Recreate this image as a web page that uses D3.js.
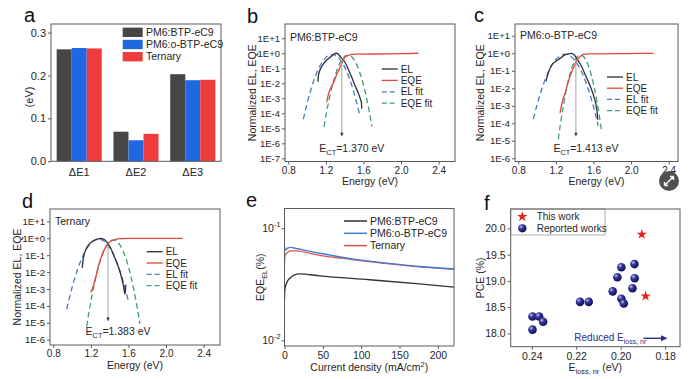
<!DOCTYPE html>
<html><head><meta charset="utf-8">
<script src="https://cdn.jsdelivr.net/npm/d3@7/dist/d3.min.js"></script>
<style>
html,body{margin:0;padding:0;background:#fff;}
svg{display:block;}
text{font-family:"Liberation Sans",Arial,Helvetica,sans-serif;}
</style></head><body>
<svg id="fig" width="700" height="379" xmlns="http://www.w3.org/2000/svg"></svg>
<script>
// ================= DATA =================
// panel a
const aCategories = ["ΔE1","ΔE2","ΔE3"];
const aSeries = ["PM6:BTP-eC9","PM6:o-BTP-eC9","Ternary"];
const aBTP = [0.261,0.069,0.203];
const aOBTP = [0.264,0.049,0.189];
const aTernary = [0.263,0.064,0.190];
const aTicks = [0.0,0.1,0.2,0.3];

// panels b-d
const energyTicks = [0.8,1.2,1.6,2.0,2.4];
const bYTicks = ["1E+1","1E+0","1E-1","1E-2","1E-3","1E-4","1E-5","1E-6","1E-7"];
const cdYTicks = ["1E+1","1E+0","1E-1","1E-2","1E-3","1E-4","1E-5","1E-6"];
const specLegend = ["EL","EQE","EL fit","EQE fit"];

const bEL = [[1.116,0.0126],[1.121,0.0355],[1.155,0.129],[1.209,0.355],[1.262,0.661],[1.286,0.891],[1.313,1.0],[1.329,0.891],[1.350,0.631],[1.403,0.251],[1.438,0.0891],[1.475,0.0251],[1.510,0.00708],[1.545,0.00224],[1.570,0.000794],[1.579,0.0005],[1.581,0.0002]];
const bELfit = [[0.96,4.03e-5],[1.00,4.59e-4],[1.04,3.72e-3],[1.08,0.0215],[1.12,0.0879],[1.16,0.256],[1.20,0.530],[1.24,0.778],[1.28,0.812],[1.32,0.602],[1.36,0.317],[1.40,0.119],[1.44,0.0316],[1.48,5.97e-3],[1.52,8.0e-4],[1.563,6.32e-5]];
const bEQE = [[1.209,5.6e-4],[1.222,1.41e-3],[1.244,3.98e-3],[1.279,0.01],[1.313,0.0355],[1.350,0.112],[1.382,0.316],[1.403,0.537],[1.438,0.708],[1.467,0.813],[1.528,0.871],[1.669,0.891],[1.882,0.912],[2.042,0.955],[2.183,1.0]];
const bEQEfit = [[1.18,1.27e-5],[1.21,1.45e-4],[1.24,1.22e-3],[1.27,7.57e-3],[1.30,0.0346],[1.33,0.117],[1.36,0.292],[1.39,0.537],[1.42,0.730],[1.45,0.731],[1.48,0.541],[1.51,0.294],[1.54,0.119],[1.57,0.0352],[1.60,7.73e-3],[1.63,1.25e-3],[1.66,1.49e-4],[1.69,1.32e-5]];
const bECT = 1.370;

const cEL = [[1.095,0.0251],[1.102,0.0372],[1.155,0.214],[1.201,0.355],[1.244,0.513],[1.286,0.759],[1.332,0.912],[1.368,1.0],[1.393,0.83],[1.421,0.513],[1.446,0.316],[1.475,0.170],[1.510,0.0631],[1.545,0.024],[1.574,0.01],[1.605,3.31e-3],[1.627,1.12e-3],[1.641,3.16e-4],[1.645,1.58e-4]];
const cELfit = [[0.96,1.74e-4],[1.00,1.17e-3],[1.04,6.19e-3],[1.08,0.0258],[1.12,0.0845],[1.16,0.217],[1.20,0.440],[1.24,0.698],[1.28,0.872],[1.32,0.856],[1.36,0.660],[1.40,0.401],[1.44,0.191],[1.48,0.0715],[1.52,0.0210],[1.56,4.86e-3],[1.60,8.85e-4],[1.651,7.1e-5]];
const cEQE = [[1.244,3.98e-4],[1.279,2.69e-3],[1.297,5.01e-3],[1.332,0.024],[1.368,0.0891],[1.385,0.138],[1.414,0.316],[1.438,0.513],[1.457,0.631],[1.492,0.871],[1.545,0.933],[1.669,0.933],[1.882,0.955],[2.095,0.977],[2.236,1.0]];
const cEQEfit = [[1.226,1.22e-5],[1.25,1.04e-4],[1.28,1.09e-3],[1.31,8.03e-3],[1.34,0.0412],[1.37,0.148],[1.40,0.371],[1.43,0.649],[1.46,0.794],[1.49,0.678],[1.52,0.405],[1.55,0.168],[1.58,0.0490],[1.61,9.95e-3],[1.64,1.41e-3],[1.67,1.40e-4],[1.687,3.22e-5]];
const cECT = 1.413;

const dEL = [[1.109,0.0178],[1.113,0.0331],[1.137,0.162],[1.191,0.501],[1.262,0.871],[1.308,1.0],[1.350,0.794],[1.403,0.316],[1.457,0.0661],[1.510,0.0105],[1.545,1.74e-3],[1.563,5.0e-4],[1.571,1.58e-3],[1.579,1.78e-3]];
const dELfit = [[0.943,6.47e-5],[0.98,4.65e-4],[1.02,3.03e-3],[1.06,0.0151],[1.10,0.0579],[1.14,0.170],[1.18,0.380],[1.22,0.653],[1.26,0.859],[1.30,0.865],[1.34,0.667],[1.38,0.394],[1.42,0.178],[1.46,0.0615],[1.50,0.0163],[1.54,3.31e-3],[1.598,2.04e-4]];
const dEQE = [[1.198,6.31e-4],[1.212,8.91e-4],[1.244,3.39e-3],[1.279,0.0209],[1.332,0.162],[1.385,0.501],[1.438,0.794],[1.510,0.955],[1.616,1.0],[1.829,1.0],[2.177,1.0]];
const dEQEfit = [[1.155,6.1e-6],[1.18,4.39e-5],[1.21,3.69e-4],[1.24,2.39e-3],[1.27,0.0119],[1.30,0.0459],[1.33,0.136],[1.36,0.311],[1.39,0.550],[1.42,0.748],[1.45,0.784],[1.48,0.634],[1.51,0.395],[1.54,0.190],[1.57,0.0705],[1.60,0.0201],[1.63,4.44e-3],[1.66,7.53e-4],[1.69,9.86e-5],[1.722,8.47e-6]];
const dECT = 1.383;

// panel e
const eSeries = ["PM6:BTP-eC9","PM6:o-BTP-eC9","Ternary"];
const eBTP = [[0,0.023],[0.4,0.0282],[2.6,0.0323],[7,0.0358],[13,0.0384],[20,0.0392],[46,0.0376],[111,0.0347],[176,0.0319],[221,0.0298]];
const eOBTP = [[0,0.068],[1,0.064],[4,0.0665],[8,0.0675],[15,0.066],[46,0.0598],[90,0.053],[133,0.0488],[176,0.0455],[221,0.0433]];
const eTernary = [[0,0.049],[0.5,0.0566],[3,0.060],[8,0.0628],[14,0.0628],[46,0.0573],[90,0.0524],[133,0.0484],[176,0.0452],[221,0.0431]];
const eXTicks = [0,50,100,150,200];
const eYTicks = [0.01,0.1];

// panel f
const fThisWorkX = [0.1905,0.1888];
const fThisWorkY = [19.886,18.71];
const fReportedX = [0.2397,0.2367,0.2349,0.2397,0.2183,0.2144,0.2036,0.2015,0.1997,0.1997,0.1986,0.1947,0.1938,0.1937];
const fReportedY = [18.32,18.32,18.22,18.07,18.60,18.60,18.80,19.07,19.26,18.66,18.57,18.86,19.32,19.05];
const fXTicks = [0.24,0.22,0.20,0.18];
const fYTicks = [18.0,18.5,19.0,19.5,20.0];
const fLegend = ["This work","Reported works"];

// ================= DRAWING =================
const svg = d3.select("#fig");
const TXT = "#262626", FRAME = "#5a5a5a";

function rich(parent,x,y,parts,size,anchor,rot,fill){
  const t=parent.append("text").attr("x",x).attr("y",y).attr("font-size",size)
    .attr("text-anchor",anchor||"start").attr("fill",fill||TXT);
  if(rot) t.attr("transform",`rotate(-90,${x},${y})`);
  let cur=0;
  parts.forEach(p=>{
    const [str,kind]=Array.isArray(p)?p:[p,"n"];
    const target = kind==="sub"?size*0.3:kind==="sup"?-size*0.42:0;
    const s=t.append("tspan").text(str).attr("dy",target-cur);
    if(kind!=="n") s.attr("font-size",size*0.7);
    cur=target;
  });
  return t;
}
function styleAxis(g,size){
  g.select(".domain").remove();
  g.selectAll(".tick line").attr("stroke",FRAME).attr("stroke-width",1);
  g.selectAll(".tick text").attr("fill",TXT).attr("font-size",size)
    .attr("font-family",'"Liberation Sans",Arial,sans-serif');
}
function frame(l,t,r,b){
  svg.append("rect").attr("x",l).attr("y",t).attr("width",r-l).attr("height",b-t)
    .attr("fill","none").attr("stroke",FRAME).attr("stroke-width",1);
}
function letter(s,x,y){
  svg.append("text").attr("x",x).attr("y",y).attr("font-size",20).attr("fill","#111").text(s);
}

// ---------- panel a ----------
(function(){
  const L=51,R=221,T=24,B=161.3;
  const x=d3.scaleBand().domain(aCategories).range([L,R]).paddingInner(0.206).paddingOuter(0.1);
  const xs=d3.scaleBand().domain(aSeries).range([0,x.bandwidth()]);
  const y=d3.scaleLinear().domain([0,0.32]).range([B,T]);
  const vals=[aBTP,aOBTP,aTernary];
  const colors=["#464646","#1f68e2","#ee3b3b"];
  aSeries.forEach((s,si)=>{
    svg.append("g").selectAll("rect").data(aCategories).join("rect")
      .attr("x",c=>x(c)+xs(s)).attr("width",xs.bandwidth())
      .attr("y",(c,i)=>y(vals[si][i])).attr("height",(c,i)=>B-y(vals[si][i]))
      .attr("fill",colors[si]);
  });
  const ya=svg.append("g").attr("transform",`translate(${L},0)`)
    .call(d3.axisLeft(y).tickValues(aTicks).tickFormat(d3.format(".1f")).tickSize(3).tickSizeOuter(0).tickPadding(2));
  styleAxis(ya,11);
  const xa=svg.append("g").attr("transform",`translate(0,${B})`)
    .call(d3.axisBottom(x).tickSize(0).tickPadding(7));
  styleAxis(xa,11);
  frame(L,T,R,B);
  rich(svg,33,97,["(eV)"],11,"middle",true);
  aSeries.forEach((s,i)=>{
    const yy=32.3+i*12.2;
    svg.append("rect").attr("x",122.7).attr("y",yy-4.7).attr("width",20).attr("height",9.4).attr("fill",colors[i]);
    svg.append("text").attr("x",146).attr("y",yy).attr("dy","0.36em").attr("font-size",10.5).attr("fill",TXT).text(s);
  });
  letter("a",24,21.7);
})();

// ---------- panels b, c, d ----------
const specStyles=[
  {c:"#2e2e3a",dash:null},
  {c:"#e4443c",dash:null},
  {c:"#4a78c8",dash:"5.5,3.5"},
  {c:"#3f9e72",dash:"5.5,3.5"}
];
function specPanel(o){
  const x=d3.scaleLinear().domain(o.xDom).range([o.l,o.r]);
  const y=d3.scaleLog().domain(o.yDom).range([o.b,o.t]);
  const id="clip-"+o.id;
  svg.append("clipPath").attr("id",id).append("rect")
    .attr("x",o.l).attr("y",o.t).attr("width",o.r-o.l).attr("height",o.b-o.t);
  const ya=svg.append("g").attr("transform",`translate(${o.l},0)`)
    .call(d3.axisLeft(y).tickValues(o.yTicks.map(Number)).tickFormat((d,i)=>o.yTicks[i]).tickSize(3).tickSizeOuter(0).tickPadding(2));
  styleAxis(ya,9.5);
  const xa=svg.append("g").attr("transform",`translate(0,${o.b})`)
    .call(d3.axisBottom(x).tickValues(energyTicks).tickFormat(d3.format(".1f")).tickSize(3).tickSizeOuter(0).tickPadding(2));
  styleAxis(xa,10);
  const pg=svg.append("g").attr("clip-path",`url(#${id})`);
  const line=d3.line().x(d=>x(d[0])).y(d=>y(d[1])).curve(d3.curveMonotoneX);
  const series=[o.el,o.eqe,o.elfit,o.eqefit];
  [2,3,0,1].forEach(k=>{
    const p=pg.append("path").datum(series[k]).attr("d",line).attr("fill","none")
      .attr("stroke",specStyles[k].c).attr("stroke-width",1.3);
    if(specStyles[k].dash) p.attr("stroke-dasharray",specStyles[k].dash);
  });
  const ax=x(o.ect), yTop=y(o.ectTop), yBot=y(o.ectBot);
  svg.append("line").attr("x1",ax).attr("x2",ax).attr("y1",yTop).attr("y2",yBot-3)
    .attr("stroke","#9a9a9a").attr("stroke-width",0.9);
  svg.append("path").attr("d",`M${ax-1.6},${yBot-4}L${ax+1.6},${yBot-4}L${ax},${yBot}Z`).attr("fill","#333");
  rich(svg,ax-22.5,o.b-9.8,["E",["CT","sub"],"=",o.ect.toFixed(3)+" eV"],10.5,"start");
  svg.append("text").attr("x",o.l+5).attr("y",o.labelY).attr("font-size",10.5).attr("fill",TXT).text(o.label);
  specLegend.forEach((s,i)=>{
    const yy=o.legY+i*o.legDy;
    const l=svg.append("line").attr("x1",o.legX).attr("x2",o.legX+16).attr("y1",yy).attr("y2",yy)
      .attr("stroke",specStyles[i].c).attr("stroke-width",1.3);
    if(specStyles[i].dash) l.attr("stroke-dasharray","5,3");
    svg.append("text").attr("x",o.legX+19).attr("y",yy).attr("dy","0.36em").attr("font-size",10).attr("fill",TXT).text(s);
  });
  frame(o.l,o.t,o.r,o.b);
  rich(svg,(o.l+o.r)/2,o.b+23.5,["Energy (eV)"],10.5,"middle");
  rich(svg,o.yTitleX,(o.t+o.b)/2,["Normalized EL, EQE"],10.5,"middle",true);
}
specPanel({id:"b",l:285,r:455,t:24,b:161.5,xDom:[0.765,2.574],yDom:[6.17e-8,89.1],yTicks:bYTicks,
  el:bEL,eqe:bEQE,elfit:bELfit,eqefit:bEQEfit,ect:bECT,ectTop:0.3,ectBot:2.8e-6,
  label:"PM6:BTP-eC9",labelY:41,legX:381.7,legY:69,legDy:11.4,yTitleX:255.5});
specPanel({id:"c",l:515,r:678,t:24,b:161.5,xDom:[0.765,2.499],yDom:[6.56e-7,47.2],yTicks:cdYTicks,
  el:cEL,eqe:cEQE,elfit:cELfit,eqefit:cEQEfit,ect:cECT,ectTop:0.4,ectBot:1.7e-5,
  label:"PM6:o-BTP-eC9",labelY:39,legX:607,legY:77,legDy:11.2,yTitleX:483.5});
specPanel({id:"d",l:50,r:220,t:209,b:345,xDom:[0.765,2.574],yDom:[4.85e-7,54.2],yTicks:cdYTicks,
  el:dEL,eqe:dEQE,elfit:dELfit,eqefit:dEQEfit,ect:dECT,ectTop:0.4,ectBot:1.2e-5,
  label:"Ternary",labelY:224.5,legX:146.7,legY:251.7,legDy:11.3,yTitleX:20.5});
letter("b",247,23.3);
letter("c",474,21.7);
letter("d",22,208.3);

// ---------- panel e ----------
(function(){
  const L=284.5,R=454,T=208.5,B=346;
  const x=d3.scaleLinear().domain([0,221]).range([L,R]);
  const y=d3.scaleLog().domain([0.0089,0.15]).range([B,T]);
  svg.append("clipPath").attr("id","clip-e").append("rect").attr("x",L).attr("y",T).attr("width",R-L).attr("height",B-T);
  const xa=svg.append("g").attr("transform",`translate(0,${B})`)
    .call(d3.axisBottom(x).tickValues(eXTicks).tickSize(3).tickSizeOuter(0).tickPadding(3));
  styleAxis(xa,10.5);
  const ya=svg.append("g").attr("transform",`translate(${L},0)`)
    .call(d3.axisLeft(y).tickValues(eYTicks).tickFormat("").tickSize(3).tickSizeOuter(0));
  styleAxis(ya,10.5);
  eYTicks.forEach(v=>{
    rich(svg,L-4,y(v)+3.5,["10",[String(Math.round(Math.log10(v))),"sup"]],10.5,"end");
  });
  const cols=["#333338","#3a7fd8","#e25151"];
  const data=[eBTP,eOBTP,eTernary];
  const line=d3.line().x(d=>x(d[0])).y(d=>y(d[1])).curve(d3.curveMonotoneX);
  const pg=svg.append("g").attr("clip-path","url(#clip-e)");
  [0,2,1].forEach(k=>{
    pg.append("path").datum(data[k]).attr("d",line).attr("fill","none").attr("stroke",cols[k]).attr("stroke-width",1.4);
  });
  eSeries.forEach((s,i)=>{
    const yy=221+i*12.3;
    svg.append("line").attr("x1",344).attr("x2",367).attr("y1",yy).attr("y2",yy).attr("stroke",cols[i]).attr("stroke-width",1.5);
    svg.append("text").attr("x",370).attr("y",yy).attr("dy","0.36em").attr("font-size",10.5).attr("fill",TXT).text(s);
  });
  frame(L,T,R,B);
  rich(svg,(L+R)/2,371,["Current density (mA/cm",["2","sup"],")"],10.5,"middle");
  rich(svg,264,(T+B)/2,["EQE",["EL","sub"],"(%)"],10.5,"middle",true);
  letter("e",246,206.7);
})();

// ---------- panel f ----------
(function(){
  const L=510.7,R=680,T=209,B=346.7;
  const x=d3.scaleLinear().domain([0.2495,0.1733]).range([L,R]);
  const y=d3.scaleLinear().domain([17.745,20.37]).range([B,T]);
  const xa=svg.append("g").attr("transform",`translate(0,${B})`)
    .call(d3.axisBottom(x).tickValues(fXTicks).tickFormat(d3.format(".2f")).tickSize(3).tickSizeOuter(0).tickPadding(3));
  styleAxis(xa,10.5);
  const ya=svg.append("g").attr("transform",`translate(${L},0)`)
    .call(d3.axisLeft(y).tickValues(fYTicks).tickFormat(d3.format(".1f")).tickSize(3).tickSizeOuter(0).tickPadding(2));
  styleAxis(ya,10.5);
  const defs=svg.append("defs");
  const rg=defs.append("radialGradient").attr("id","ball").attr("cx","0.35").attr("cy","0.32").attr("r","0.7");
  rg.append("stop").attr("offset","0").attr("stop-color","#c9c9f2");
  rg.append("stop").attr("offset","0.35").attr("stop-color","#3a3aa0");
  rg.append("stop").attr("offset","1").attr("stop-color","#0c0c50");
  const star=d3.symbol().type(d3.symbolStar).size(34);
  svg.append("g").selectAll("circle").data(fReportedX).join("circle")
    .attr("cx",d=>x(d)).attr("cy",(d,i)=>y(fReportedY[i])).attr("r",4.3).attr("fill","url(#ball)");
  svg.append("g").selectAll("path").data(fThisWorkX).join("path")
    .attr("transform",(d,i)=>`translate(${x(d)},${y(fThisWorkY[i])})`).attr("d",star).attr("fill","#e5201f");
  svg.append("rect").attr("x",L).attr("y",T).attr("width",94.3).attr("height",26).attr("fill","#fff").attr("stroke","#9a9a9a").attr("stroke-width",0.8);
  svg.append("path").attr("transform","translate(522.3,216.7)").attr("d",star).attr("fill","#e5201f");
  svg.append("circle").attr("cx",522.3).attr("cy",228.3).attr("r",4.1).attr("fill","url(#ball)");
  fLegend.forEach((s,i)=>{
    svg.append("text").attr("x",536.7).attr("y",216.7+i*11.6).attr("dy","0.36em").attr("font-size",10).attr("fill",TXT).text(s);
  });
  rich(svg,574.3,340.5,["Reduced E",["loss, nr","sub"]],10,"start",false,"#2c2c8c");
  svg.append("line").attr("x1",643.5).attr("x2",662).attr("y1",338.3).attr("y2",338.3).attr("stroke","#2c2c8c").attr("stroke-width",1.4);
  svg.append("path").attr("d","M661,335.3L667.5,338.3L661,341.3Z").attr("fill","#2c2c8c");
  frame(L,T,R,B);
  rich(svg,(L+R)/2,371,["E",["loss, nr","sub"]," (eV)"],10.5,"middle");
  rich(svg,484,(T+B)/2,["PCE (%)"],10.5,"middle",true);
  letter("f",484,210);
})();

// viewer icon
svg.append("circle").attr("cx",669).attr("cy",181).attr("r",10).attr("fill","#505050");
svg.append("path").attr("d","M664.5,185.5L673.5,176.5M664.5,185.5l0,-3.5M664.5,185.5l3.5,0M673.5,176.5l-3.5,0M673.5,176.5l0,3.5")
  .attr("stroke","#fff").attr("stroke-width",1.4).attr("fill","none");
</script>
</body></html>
